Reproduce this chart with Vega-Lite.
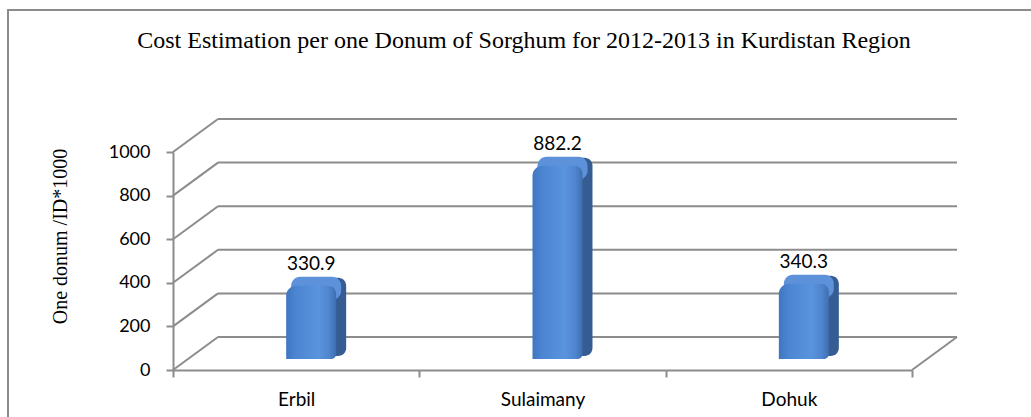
{
  "$schema": "https://vega.github.io/schema/vega-lite/v6.json",
  "width": 1026,
  "height": 410,
  "autosize": {"type": "none"},
  "padding": {"left": 8, "top": 10, "right": -3, "bottom": -3},
  "background": "white",
  "config": {
    "view": {"stroke": "#8c8c8c", "strokeWidth": 2},
    "font": "Lato"
  },
  "title": {
    "text": "Cost Estimation per one Donum of Sorghum for 2012-2013 in Kurdistan Region",
    "font": "Liberation Serif",
    "fontSize": 24,
    "fontWeight": "normal",
    "color": "black",
    "anchor": "middle",
    "frame": "group",
    "baseline": "alphabetic",
    "offset": -62,
    "dx": 3
  },
  "datasets": {
    "bars": [
      {"region": "Erbil", "value": 330.9},
      {"region": "Sulaimany", "value": 882.2},
      {"region": "Dohuk", "value": 340.3}
    ],
    "grid": [
      {"value": 0}, {"value": 200}, {"value": 400},
      {"value": 600}, {"value": 800}, {"value": 1000}
    ]
  },
  "layer": [
    {
      "data": {"name": "grid"},
      "mark": {"type": "rule", "color": "#8c8c8c", "strokeWidth": 2, "xOffset": 45, "x2Offset": 45, "yOffset": -33},
      "encoding": {
        "x": {"datum": "Erbil", "type": "nominal", "bandPosition": 0,
              "scale": {"domain": ["Erbil", "Sulaimany", "Dohuk"], "range": [165, 904], "paddingInner": 0, "paddingOuter": 0}},
        "x2": {"datum": "Dohuk", "bandPosition": 1},
        "y": {"field": "value", "type": "quantitative",
              "scale": {"domain": [0, 1000], "range": [360, 142]}}
      }
    },
    {
      "data": {"name": "grid"},
      "mark": {"type": "rule", "color": "#8c8c8c", "strokeWidth": 2, "x2Offset": 45, "y2Offset": -33},
      "encoding": {
        "x": {"datum": "Erbil", "type": "nominal", "bandPosition": 0},
        "x2": {"datum": "Erbil", "bandPosition": 0},
        "y": {"field": "value", "type": "quantitative"},
        "y2": {"field": "value"}
      }
    },
    {
      "data": {"name": "grid"},
      "transform": [{"filter": "datum.value == 0"}],
      "mark": {"type": "rule", "color": "#8c8c8c", "strokeWidth": 2, "x2Offset": 45, "y2Offset": -33},
      "encoding": {
        "x": {"datum": "Dohuk", "type": "nominal", "bandPosition": 1},
        "x2": {"datum": "Dohuk", "bandPosition": 1},
        "y": {"field": "value", "type": "quantitative"},
        "y2": {"field": "value"}
      }
    },
    {
      "data": {"name": "bars"},
      "mark": {"type": "bar", "width": 50, "xOffset": 25, "yOffset": -20, "y2Offset": -14, "cornerRadius": 8, "color": "#365d93"},
      "encoding": {
        "x": {"field": "region", "type": "nominal"},
        "y": {"field": "value", "type": "quantitative"},
        "y2": {"datum": 0}
      }
    },
    {
      "data": {"name": "bars"},
      "mark": {"type": "bar", "width": 50, "xOffset": 20, "yOffset": -21, "y2Offset": 2, "cornerRadius": 9, "color": "#5d92da"},
      "encoding": {
        "x": {"field": "region", "type": "nominal"},
        "y": {"field": "value", "type": "quantitative"},
        "y2": {"field": "value"}
      }
    },
    {
      "data": {"name": "bars"},
      "mark": {
        "type": "bar", "width": 50, "xOffset": 15, "yOffset": -12, "y2Offset": -11,
        "cornerRadiusTopLeft": 10, "cornerRadiusTopRight": 8, "cornerRadiusBottomRight": 5,
        "color": {"gradient": "linear", "x1": 0, "x2": 1, "y1": 0, "y2": 0,
          "stops": [
            {"offset": 0, "color": "#3f76c1"},
            {"offset": 0.2, "color": "#4c85d1"},
            {"offset": 0.65, "color": "#5a93de"},
            {"offset": 0.85, "color": "#4f86cf"},
            {"offset": 1, "color": "#3f6eaf"}
          ]}
      },
      "encoding": {
        "x": {"field": "region", "type": "nominal", "sort": null,
              "axis": {"orient": "bottom", "offset": -50, "title": null, "labelAngle": 0, "labelAlign": "center",
                       "labelFont": "Lato", "labelFontSize": 19, "labelColor": "black", "labelPadding": 22,
                       "domainColor": "#8c8c8c", "domainWidth": 2, "tickColor": "#8c8c8c", "tickWidth": 2,
                       "tickSize": 7, "tickBand": "extent", "grid": false}},
        "y": {"field": "value", "type": "quantitative",
              "axis": {"orient": "left", "offset": -165, "values": [0, 200, 400, 600, 800, 1000], "format": "d",
                       "title": "One donum /ID*1000", "titleFont": "Liberation Serif", "titleFontSize": 20,
                       "titleFontWeight": "normal", "titleColor": "black", "titleX": -103, "titleY": 226,
                       "titleAngle": -90, "titleBaseline": "bottom", "titleAlign": "center",
                       "labelFont": "Lato", "labelFontSize": 18, "labelColor": "black", "labelPadding": 16,
                       "tickSize": 7, "tickColor": "#8c8c8c", "tickWidth": 2,
                       "domainColor": "#8c8c8c", "domainWidth": 2, "grid": false}},
        "y2": {"datum": 0}
      }
    },
    {
      "data": {"name": "bars"},
      "mark": {"type": "text", "font": "Lato", "fontSize": 19, "color": "black", "dx": 15, "dy": -28, "baseline": "alphabetic", "align": "center"},
      "encoding": {
        "x": {"field": "region", "type": "nominal"},
        "y": {"field": "value", "type": "quantitative"},
        "text": {"field": "value", "type": "quantitative", "format": ".1f"}
      }
    }
  ]
}
